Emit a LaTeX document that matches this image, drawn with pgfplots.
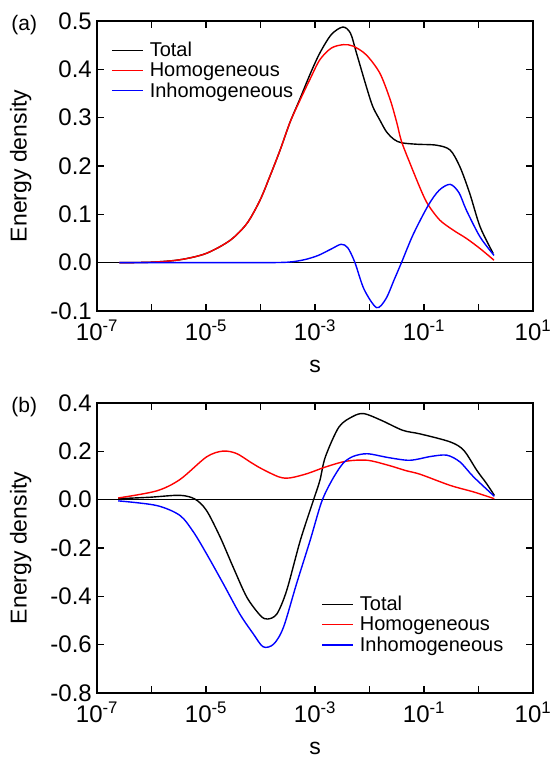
\documentclass[border=0pt]{standalone}
\usepackage{fontspec}
\setmainfont{Liberation Sans}
\usepackage{pgfplots}
\pgfplotsset{compat=1.18}

\pgfplotsset{
  panel/.style={
    scale only axis, width=436pt, height=290pt, clip=false,
    xmin=-7, xmax=1,
    xtick={-7,-5,-3,-1,1},
    xticklabels={10\textsuperscript{-7},10\textsuperscript{-5},10\textsuperscript{-3},10\textsuperscript{-1},10\textsuperscript{1}},
    minor xtick={-6,-4,-2,0},
    tick align=inside,
    major tick length=7pt, minor tick length=7pt,
    every tick/.style={black, line width=1.1pt},
    axis line style={line width=1.9pt},
    ticklabel style={font=\fontsize{24}{27}\selectfont},
    xticklabel style={yshift=-5pt},
    yticklabel style={inner xsep=5pt, /pgf/number format/.cd, fixed, fixed zerofill, precision=1, assume math mode=true},
    label style={font=\fontsize{23}{26}\selectfont},
    xlabel={s}, ylabel={Energy density},
    xlabel style={at={(axis description cs:0.5,-0.192)}, anchor=center},
    ylabel style={at={(axis description cs:-0.175,0.5)}, anchor=center},
    legend cell align=left,
    legend image code/.code={\draw[#1, line width=1.6pt] (0pt,0pt) -- (31pt,0pt);},
    legend style={draw=none, fill=none, font=\fontsize{20}{22}\selectfont,
      row sep=0.5pt, column sep=4pt, inner sep=0pt},
    every axis plot/.append style={line width=1.4pt, smooth, tension=0.5},
  }
}

\begin{document}
\begin{tikzpicture}
\path[use as bounding box] (0,0) rectangle (553pt,760pt);

% panel (a)
\begin{axis}[panel, at={(97pt,449pt)}, anchor=south west,
  ymin=-0.1, ymax=0.5, ytick={-0.1,0,0.1,0.2,0.3,0.4,0.5},
  legend style={at={(0.032,0.934)}, anchor=north west}]
\addplot[black, line width=1pt, forget plot, sharp plot] coordinates {(-7,0) (1,0)};
\addplot[black] coordinates {
(-6.59,0) (-6.0,0.001) (-5.48,0.006) (-5.0,0.019) (-4.56,0.046) (-4.25,0.081)
(-4.01,0.129) (-3.83,0.178) (-3.64,0.233) (-3.46,0.29) (-3.28,0.338) (-3.09,0.39)
(-2.91,0.434) (-2.7,0.472) (-2.49,0.4875) (-2.35,0.475) (-2.24,0.434) (-2.06,0.365)
(-1.94,0.323) (-1.81,0.295) (-1.69,0.271) (-1.55,0.255) (-1.41,0.248) (-1.13,0.245)
(-0.77,0.243) (-0.52,0.233) (-0.34,0.198) (-0.16,0.143) (0.03,0.074) (0.27,0.019)};
\addplot[red] coordinates {
(-6.59,0) (-6.0,0.001) (-5.48,0.006) (-5.0,0.019) (-4.56,0.046) (-4.25,0.081)
(-4.01,0.129) (-3.83,0.178) (-3.64,0.233) (-3.46,0.29) (-3.28,0.335) (-3.09,0.38)
(-2.91,0.42) (-2.7,0.444) (-2.48,0.451) (-2.3,0.448) (-2.06,0.43) (-1.81,0.392)
(-1.62,0.337) (-1.5,0.29) (-1.41,0.25) (-1.23,0.198) (-1.04,0.146) (-0.92,0.119)
(-0.71,0.088) (-0.46,0.067) (-0.22,0.05) (0.03,0.029) (0.285,0.005)};
\addplot[blue] coordinates {
(-6.59,0) (-5,0) (-4,0) (-3.5,0.001) (-3.2,0.006) (-2.94,0.015) (-2.69,0.029)
(-2.52,0.038) (-2.4,0.031) (-2.27,0.001) (-2.1,-0.055) (-1.87,-0.093) (-1.7,-0.075)
(-1.55,-0.036) (-1.41,0.001) (-1.2,0.058) (-0.92,0.119) (-0.72,0.150) (-0.52,0.162)
(-0.36,0.145) (-0.22,0.108) (0.03,0.053) (0.285,0.015)};
\legend{Total,Homogeneous,Inhomogeneous}
\node[font=\fontsize{21}{24}\selectfont] at (axis description cs:-0.167,0.986) {(a)};
\end{axis}

% panel (b)
\begin{axis}[panel, at={(97pt,67pt)}, anchor=south west,
  ymin=-0.8, ymax=0.4, ytick={-0.8,-0.6,-0.4,-0.2,0,0.2,0.4},
  legend style={at={(0.514,0.3405)}, anchor=north west}]
\addplot[black, line width=1pt, forget plot, sharp plot] coordinates {(-7,0) (1,0)};
\addplot[black] coordinates {
(-6.61,0.004) (-6.03,0.010) (-5.48,0.018) (-5.2,0.002) (-4.99,-0.045) (-4.74,-0.155)
(-4.5,-0.28) (-4.25,-0.404) (-4.0,-0.48) (-3.87,-0.494) (-3.7,-0.473) (-3.52,-0.376)
(-3.27,-0.169) (-3.03,-0.003) (-2.91,0.08) (-2.81,0.177) (-2.56,0.301) (-2.3,0.345)
(-2.1,0.356) (-1.78,0.328) (-1.39,0.287) (-1.07,0.272) (-0.52,0.239) (-0.27,0.204)
(-0.03,0.121) (0.15,0.066) (0.29,0.018)};
\addplot[red] coordinates {
(-6.61,0.007) (-5.91,0.036) (-5.48,0.083) (-4.99,0.177) (-4.69,0.201) (-4.44,0.191)
(-4.19,0.156) (-3.98,0.128) (-3.66,0.094) (-3.46,0.090) (-3.14,0.108) (-2.81,0.135)
(-2.43,0.159) (-2.04,0.163) (-1.65,0.142) (-1.33,0.12) (-1.07,0.105) (-0.52,0.059)
(-0.09,0.032) (0.29,0.004)};
\addplot[blue] coordinates {
(-6.61,-0.005) (-5.91,-0.024) (-5.48,-0.065) (-5.23,-0.134) (-4.99,-0.224) (-4.68,-0.349)
(-4.38,-0.473) (-4.13,-0.556) (-3.95,-0.609) (-3.76,-0.598) (-3.58,-0.529) (-3.34,-0.349)
(-3.09,-0.169) (-2.88,-0.010) (-2.69,0.08) (-2.49,0.149) (-2.3,0.179) (-2.04,0.19)
(-1.65,0.174) (-1.26,0.163) (-0.87,0.179) (-0.58,0.184) (-0.34,0.156) (-0.09,0.094)
(0.29,0.014)};
\legend{Total,Homogeneous,Inhomogeneous}
\node[font=\fontsize{21}{24}\selectfont] at (axis description cs:-0.167,0.986) {(b)};
\end{axis}
\end{tikzpicture}
\end{document}
